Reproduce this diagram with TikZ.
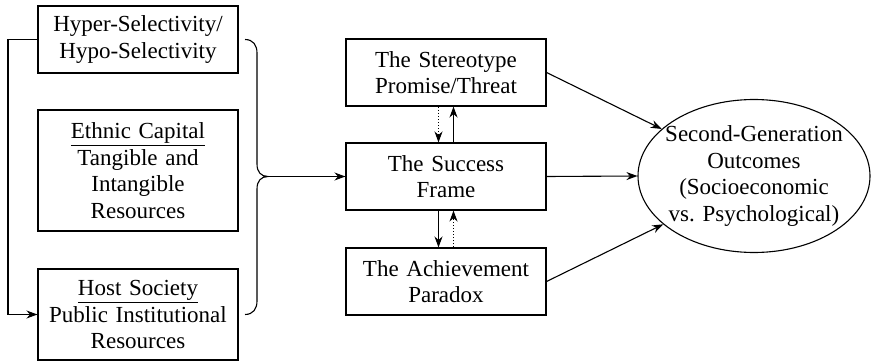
\documentclass[tikz,border=0pt]{standalone}
\usepackage{fontspec}
\setmainfont{Liberation Serif}
\newfontfamily\boxfont{Liberation Serif}
\usetikzlibrary{arrows.meta,shapes.geometric}
\begin{document}
\begin{tikzpicture}[x=1pt, y=-1pt, line width=1.1pt,
		every node/.style={font=\boxfont\fontsize{23}{26.5}\selectfont},
		box/.style={draw, align=center, text width=188pt, inner xsep=6pt, minimum width=200pt, minimum height=67pt},
		arr/.style={-{Stealth[length=11pt, width=8pt]}},
		dots/.style={arr, dotted}]
		\useasboundingbox (0,0) rectangle (871,361);

		\node[box] (hyper) at (138,39.5) {Hyper-Selectivity/\\Hypo-Selectivity};
		\node[box, minimum height=121pt] (ethnic) at (138,170.5) {\underline{Ethnic Capital}\\Tangible and\\Intangible\\Resources};
		\node[box, minimum height=91pt] (host) at (138,314.5) {\underline{Host Society}\\Public Institutional\\Resources};

		\node[box] (stereo) at (446,72.5) {The Stereotype\\Promise/Threat};
		\node[box] (success) at (446,176.5) {The Success\\Frame};
		\node[box] (paradox) at (446,281.5) {The Achievement\\Paradox};

		\node[draw, ellipse, minimum width=232pt, minimum height=153pt] (outcome) at (754,176) {};
		\node[align=center] (outtext) at (outcome.center) {Second-Generation\\Outcomes\\(Socioeconomic\\vs. Psychological)};

		\draw[arr] (hyper.west) -- (8,39.5) -- (8,314.5) -- (host.west);

		\draw (245,39.5) .. controls (253,39.5) and (257,45) .. (257,53) -- (257,164)
			.. controls (257,172) and (261,176.5) .. (268,176.5)
			.. controls (261,176.5) and (257,181) .. (257,189) -- (257,301)
			.. controls (257,309) and (253,314.5) .. (245,314.5);
		\coordinate (tip) at (268,176.5);
		\draw[arr] (tip) -- (success.west);

		\draw[dots] ([xshift=-7.5pt]stereo.south) -- ([xshift=-7.5pt]success.north);
		\draw[arr] ([xshift=7.5pt]success.north) -- ([xshift=7.5pt]stereo.south);
		\draw[arr] ([xshift=-7.5pt]success.south) -- ([xshift=-7.5pt]paradox.north);
		\draw[dots] ([xshift=7.5pt]paradox.north) -- ([xshift=7.5pt]success.south);

		\draw[arr] (stereo.east) -- (outcome.153);
		\draw[arr] (success.east) -- (outcome.west);
		\draw[arr] (paradox.east) -- (outcome.208);
	\end{tikzpicture}
\end{document}
